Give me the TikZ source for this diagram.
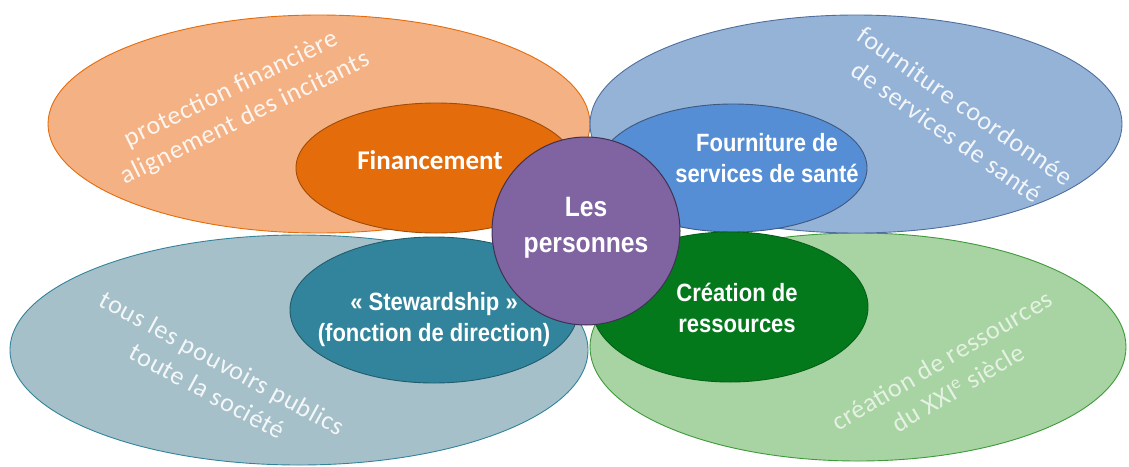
\documentclass[tikz,border=0pt]{standalone}
\usepackage{fontspec}
\setmainfont{Carlito}
\newfontfamily\narrowsans[FakeStretch=0.88]{Liberation Sans}
\newfontfamily\spacedsans[LetterSpace=3]{Carlito}
\usetikzlibrary{shapes.geometric}

% palette
\definecolor{orangeLight}{HTML}{F4B183}
\definecolor{orangeLine}{HTML}{E46C0A}
\definecolor{orangeCore}{HTML}{E46C0A}
\definecolor{blueLight}{HTML}{95B3D7}
\definecolor{blueLine}{HTML}{4F6E9E}
\definecolor{blueCore}{HTML}{558ED5}
\definecolor{tealLight}{HTML}{A6C0CA}
\definecolor{tealLine}{HTML}{31849B}
\definecolor{tealCore}{HTML}{31849B}
\definecolor{greenLight}{HTML}{A8D3A2}
\definecolor{greenLine}{HTML}{3E9A3A}
\definecolor{greenCore}{HTML}{04791C}
\definecolor{purpleCore}{HTML}{8064A2}
\definecolor{purpleLine}{HTML}{3F3151}

\begin{document}
\begin{tikzpicture}[x=1pt,y=-1pt,
  zone/.style={ellipse, inner sep=0pt, line width=0.9pt},
  core/.style={ellipse, inner sep=0pt, line width=0.9pt},
  outertext/.style={text=white, text opacity=0.88, inner sep=0pt, align=center,
    font=\spacedsans\fontsize{26}{32}\selectfont},
  innertext/.style={text=white, inner sep=0pt, align=center,
    font=\narrowsans\bfseries\fontsize{25}{31}\selectfont},
]
\useasboundingbox (0,0) rectangle (1129,466);

% outer domains
\node[zone, fill=tealLight, draw=tealLine, minimum width=578pt, minimum height=230pt] (govzone) at (299,350) {};
\node[zone, fill=greenLight, draw=greenLine, minimum width=536pt, minimum height=228pt] (reszone) at (858,347) {};
\node[zone, fill=orangeLight, draw=orangeLine, minimum width=542pt, minimum height=218pt] (finzone) at (319,124) {};
\node[zone, fill=blueLight, draw=blueLine, minimum width=532pt, minimum height=218pt] (servzone) at (856,124) {};

% core functions
\node[core, fill=orangeCore, draw=orangeCore!70!black, minimum width=280pt, minimum height=130pt] (fin) at (436,168) {};
\node[core, fill=blueCore, draw=blueLine!80!black, minimum width=268pt, minimum height=128pt] (serv) at (733,168) {};
\node[core, fill=tealCore, draw=tealCore!70!black, minimum width=288pt, minimum height=146pt] (gov) at (434,310) {};
\node[core, fill=greenCore, draw=greenCore!80!black, minimum width=276pt, minimum height=150pt] (res) at (730,307) {};

% people at the centre
\node[circle, fill=purpleCore, draw=purpleLine, line width=1pt, minimum size=188pt, inner sep=0pt] (people) at (586,231) {};

% labels of the core functions
\node[text=white, inner sep=0pt, font=\bfseries\fontsize{27}{31}\selectfont] (finlabel) at (430,160) {Financement};
\node[innertext] (servlabel) at (767,158) {Fourniture de\\services de santé};
\node[innertext] (govlabel) at (434,320) {« Stewardship »\\(fonction de direction)};
\node[innertext] (reslabel) at (737,308) {Création de\\ressources};
\node[innertext, font=\narrowsans\bfseries\fontsize{28}{36}\selectfont] (peoplelabel) at (586,228) {Les\\personnes};

% labels of the outer domains
\node[outertext, rotate=26] (finzonelabel) at (238,104) {protection financière\\alignement des incitants};
\node[outertext, rotate=-35] (servzonelabel) at (956,119) {fourniture coordonnée\\de services de santé};
\node[outertext, rotate=-28.5] (govzonelabel) at (215,377) {tous les pouvoirs publics\\toute la société};
\node[outertext, rotate=30.5, text=greenLight!30!white, text opacity=1] (reszonelabel) at (950,374) {création de ressources\\du XXI\textsuperscript{e} siècle};
\end{tikzpicture}
\end{document}
